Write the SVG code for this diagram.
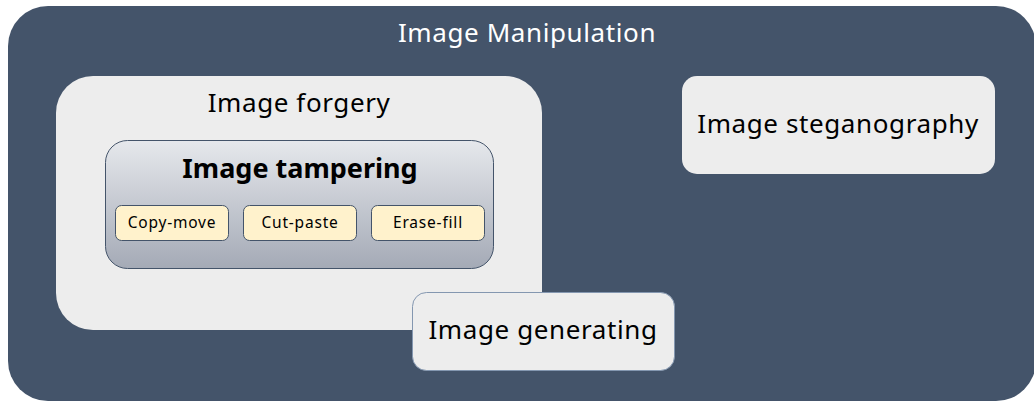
<svg xmlns="http://www.w3.org/2000/svg" width="1034" height="402" viewBox="0 0 1034 402">
<defs>
<linearGradient id="gTamp" x1="0" y1="0" x2="0" y2="1">
<stop offset="0" stop-color="#E6E8EC"/>
<stop offset="1" stop-color="#A4AAB6"/>
</linearGradient>
<style>
text{font-family:"Noto Sans","Noto Sans CJK KR",sans-serif;text-anchor:middle}
.lbl{font-size:26px;letter-spacing:0.6px;fill:#000}
.sub{font-size:15.5px;letter-spacing:0.8px;fill:#000}
.leaf{fill:#FFF2CC;stroke:#44546A;stroke-width:1}
.light{fill:#EDEDED}
</style>
</defs>
<g id="manipulation">
<rect x="8" y="6" width="1028" height="395" rx="40" fill="#44546A"/>
<text x="527" y="42" class="lbl" style="fill:#fff">Image Manipulation</text>
</g>
<g id="forgery">
<rect x="56" y="76" width="486" height="254" rx="37" class="light"/>
<text x="299" y="112" class="lbl">Image forgery</text>
</g>
<g id="tampering">
<rect x="105.5" y="140.5" width="388" height="128" rx="22" fill="url(#gTamp)" stroke="#44546A" stroke-width="1"/>
<text x="300" y="178" style="font-size:27px;font-weight:bold">Image tampering</text>
</g>
<g id="copymove">
<rect x="115.5" y="205.5" width="113" height="35" rx="6" class="leaf"/>
<text x="172" y="228" class="sub">Copy-move</text>
</g>
<g id="cutpaste">
<rect x="243.5" y="205.5" width="113" height="35" rx="6" class="leaf"/>
<text x="300" y="228" class="sub">Cut-paste</text>
</g>
<g id="erasefill">
<rect x="371.5" y="205.5" width="113" height="35" rx="6" class="leaf"/>
<text x="428" y="228" class="sub">Erase-fill</text>
</g>
<g id="generating">
<rect x="412.5" y="292.5" width="262" height="78" rx="14" class="light" stroke="#8497B0" stroke-width="1"/>
<text x="543" y="338.5" class="lbl">Image generating</text>
</g>
<g id="steganography">
<rect x="682" y="76" width="313" height="98" rx="15" class="light"/>
<text x="838" y="132.5" class="lbl">Image steganography</text>
</g>
<g id="connectors"/>
</svg>
